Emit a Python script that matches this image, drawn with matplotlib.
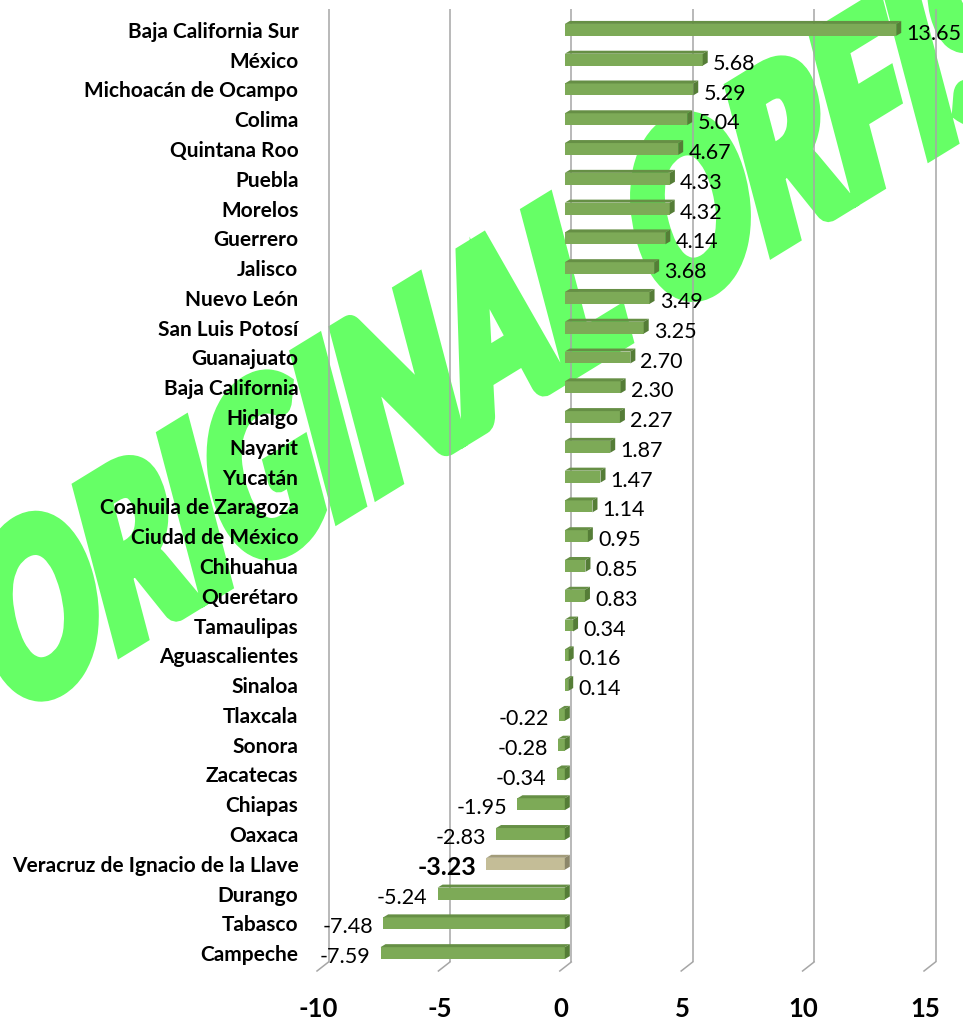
import numpy as np
import matplotlib
matplotlib.use("Agg")
import matplotlib.pyplot as plt
from matplotlib.patches import Polygon
from matplotlib.transforms import Affine2D, ScaledTranslation
import matplotlib.patheffects as pe

plt.rcParams['font.family'] = ['Lato', 'DejaVu Sans']

# ---------------- data ----------------
states = ["Baja California Sur", "México", "Michoacán de Ocampo", "Colima",
          "Quintana Roo", "Puebla", "Morelos", "Guerrero", "Jalisco",
          "Nuevo León", "San Luis Potosí", "Guanajuato", "Baja California",
          "Hidalgo", "Nayarit", "Yucatán", "Coahuila de Zaragoza",
          "Ciudad de México", "Chihuahua", "Querétaro", "Tamaulipas",
          "Aguascalientes", "Sinaloa", "Tlaxcala", "Sonora", "Zacatecas",
          "Chiapas", "Oaxaca", "Veracruz de Ignacio de la Llave", "Durango",
          "Tabasco", "Campeche"]
values = [13.65, 5.68, 5.29, 5.04, 4.67, 4.33, 4.32, 4.14, 3.68, 3.49, 3.25,
          2.70, 2.30, 2.27, 1.87, 1.47, 1.14, 0.95, 0.85, 0.83, 0.34, 0.16,
          0.14, -0.22, -0.28, -0.34, -1.95, -2.83, -3.23, -5.24, -7.48, -7.59]
highlight = "Veracruz de Ignacio de la Llave"
x_ticks = [-10, -5, 0, 5, 10, 15]
x_tick_labels = ["-10", "-5", "0", "5", "10", "15"]
watermark = "ORIGINAL ORFIS"

# ---------------- styles ----------------
GREEN_FACE, GREEN_TOP, GREEN_SIDE = "#7DAA57", "#668F45", "#557D37"
TAN_FACE, TAN_TOP, TAN_SIDE = "#C4BD97", "#A39C7A", "#8C866A"
GRID = "#A6A6A6"
WM_COLOR = "#66FF66"

W, H = 963, 1021
fig = plt.figure(figsize=(W / 100, H / 100), dpi=100)
ax_l, ax_b, ax_w, ax_h = 322, 53, 607, 953
ax = fig.add_axes([ax_l / W, ax_b / H, ax_w / W, ax_h / H])
ax.set_facecolor("none")
n = len(states)
ax.set_xlim(-10, 15)
ax.set_ylim(n - 0.5, -0.5)
for s in ax.spines.values():
    s.set_visible(False)

px_x = ax_w / 25.0          # pixels per x unit
px_y = ax_h / n             # pixels per category

def dx(p):
    return p / px_x

def dy(p):
    return p / px_y

# back wall gridlines and floor ticks
for t in x_ticks:
    xb = t + dx(6.5)
    ax.plot([xb, xb], [-0.5 - dy(6), n - 0.5 - dy(6)], color=GRID, lw=1.1,
            zorder=1, clip_on=False, solid_capstyle='butt')
    ax.plot([xb, t - dx(5)], [n - 0.5 - dy(6), n - 0.5 + dy(3)], color=GRID,
            lw=1.1, zorder=1, clip_on=False)

# bars
bh = 0.40
ddx, ddy = dx(5), dy(3)
face_cols = [TAN_FACE if s == highlight else GREEN_FACE for s in states]
ax.barh(range(n), values, height=bh, color=face_cols, edgecolor="none", zorder=3)
for i, (s, v) in enumerate(zip(states, values)):
    hl = s == highlight
    left, right = min(0, v), max(0, v)
    top = i - bh / 2
    bot = i + bh / 2
    ax.add_patch(Polygon([(left, top), (right, top), (right + ddx, top - ddy),
                          (left + ddx, top - ddy)], closed=True,
                         facecolor=TAN_TOP if hl else GREEN_TOP, edgecolor="none",
                         zorder=3))
    ax.add_patch(Polygon([(right, top), (right, bot), (right + ddx, bot - ddy),
                          (right + ddx, top - ddy)], closed=True,
                         facecolor=TAN_SIDE if hl else GREEN_SIDE, edgecolor="none",
                         zorder=3))
    off = 7.3 if v > 0 else -7.3
    ax.annotate(f"{v:.2f}", xy=(v, i), xytext=(off, -1.5), textcoords="offset points",
                ha="left" if v > 0 else "right", va="center_baseline",
                fontsize=18 if hl else 15.5, fontweight="bold" if hl else "normal",
                color="black", zorder=5, annotation_clip=False)

# axes ticks
ax.set_yticks(range(n))
ax.set_yticklabels(states, fontsize=15, fontweight="bold")
ax.tick_params(axis="y", length=0, pad=17)
ax.set_xticks(x_ticks)
ax.set_xticklabels(x_tick_labels, fontsize=18.5, fontweight="bold")
ax.tick_params(axis="x", length=0, pad=21)
for lab in ax.get_xticklabels():
    lab.set_transform(lab.get_transform() + ScaledTranslation(-4 / 100, 0, fig.dpi_scale_trans))

# watermark: real text, drawn slanted along a rotated baseline by a path effect
class Warp(pe.AbstractPathEffect):
    def __init__(self, text, base_deg, up_deg, sb, su, lw, color):
        super().__init__()
        self.text = text
        a, u = np.radians(base_deg), np.radians(up_deg)
        self.m = np.array([[sb * np.cos(a), su * np.cos(u), 0.0],
                           [sb * np.sin(a), su * np.sin(u), 0.0],
                           [0.0, 0.0, 1.0]])
        self.lw, self.color = lw, color

    def draw_path(self, renderer, gc, tpath, affine, rgbFace=None):
        cx, cy = self.text.get_transform().transform(self.text.get_position())
        extra = (Affine2D().translate(-cx, -cy) + Affine2D(self.m)
                 + Affine2D().translate(cx, cy))
        gc0 = renderer.new_gc()
        gc0.copy_properties(gc)
        gc0.set_linewidth(self.lw)
        gc0.set_foreground(self.color)
        gc0.set_joinstyle("miter")
        renderer.draw_path(gc0, tpath, affine + extra, rgbFace)
        gc0.restore()

wm = fig.text(520 / W, 1 - 405 / H, watermark, ha="center", va="baseline",
              fontsize=166, fontweight="black", color=WM_COLOR, zorder=-5,
              family=["Lato", "DejaVu Sans"])
wm.set_path_effects([Warp(wm, 31.5, 104.8, 0.66, 1.0, 10.0, WM_COLOR)])

fig.savefig("out.png", dpi=100)
